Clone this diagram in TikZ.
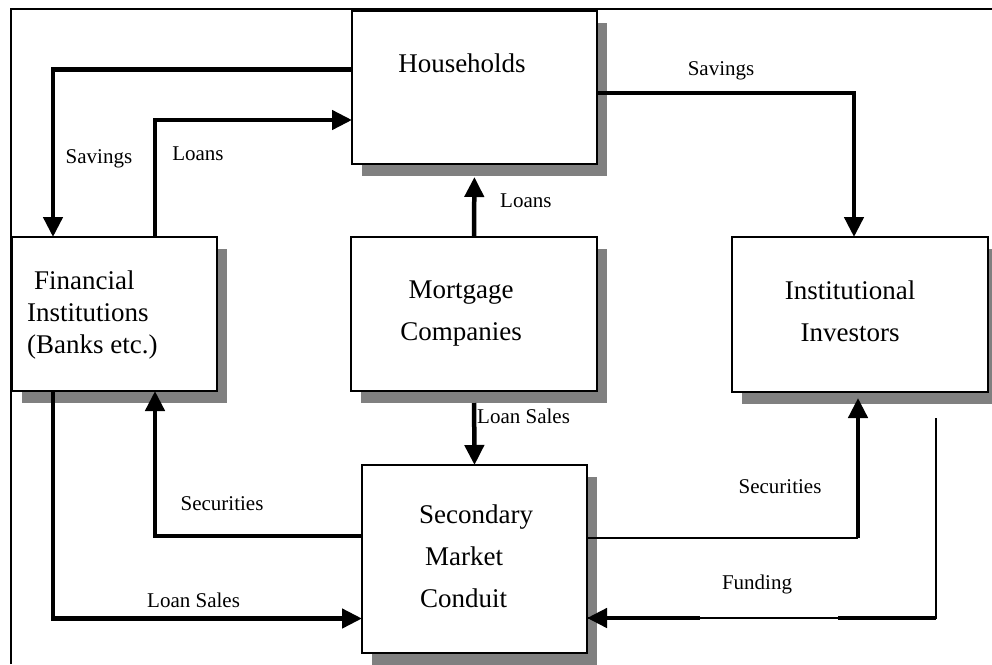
\documentclass[tikz,border=0pt]{standalone}
\usepackage{fontspec}
\setmainfont{Liberation Serif}
\usetikzlibrary{arrows.meta, shadows, calc}

\definecolor{shadowgray}{RGB}{128,128,128}

\tikzset{
  box/.style={draw, line width=1.5pt, fill=white, inner sep=0pt, outer sep=0pt,
    drop shadow={shadow xshift=10pt, shadow yshift=-12pt, fill=shadowgray, opacity=1}},
  boxtext/.style={inner sep=0pt, font=\fontsize{27}{42}\selectfont},
  flowlabel/.style={inner sep=0pt, font=\fontsize{21}{25}\selectfont},
  flowline/.style={line width=4.5pt},
  flow/.style={flowline, -{Triangle[length=20pt,width=19pt]}},
  thinline/.style={line width=2pt},
}

\begin{document}
\begin{tikzpicture}[x=1pt, y=-1pt]
  \useasboundingbox (0,0) rectangle (992,664);

  % frame
  \draw[line width=2pt] (11,664) -- (11,9) -- (992,9);

  % boxes
  \node[box, minimum width=245, minimum height=153] (hh)   at (474.5,87.5) {};
  \node[box, minimum width=205, minimum height=154] (fin)  at (114.5,314) {};
  \node[box, minimum width=246, minimum height=154] (mort) at (474,314) {};
  \node[box, minimum width=256, minimum height=155] (inv)  at (860,314.5) {};
  \node[box, minimum width=225, minimum height=188] (smc)  at (474.5,559) {};

  % box texts
  \node[boxtext, anchor=base] (hhtext) at (462,72) {Households};
  \node[boxtext, anchor=north west, align=left, font=\fontsize{27}{32}\selectfont]
    (fintext) at (27,271) {\hspace*{7pt}Financial\\Institutions\\(Banks etc.)};
  \node[boxtext, anchor=north, align=center] (morttext) at (461,281) {Mortgage\\Companies};
  \node[boxtext, anchor=north, align=center] (invtext) at (850,281) {Institutional\\Investors};
  \node[boxtext, anchor=north west, align=left]
    (smctext) at (419,504.5) {Secondary\\\hspace*{6pt}Market\\\hspace*{1pt}Conduit};

  % flows round the households
  \draw[flow] ([yshift=18pt]hh.west) -| ([xshift=-61.5pt]fin.north);
  \draw[flow] ([xshift=40.5pt]fin.north) |- ([yshift=-32.5pt]hh.west);
  \draw[flow, shorten >=13pt] (mort.north) -- (hh.south);
  \draw[flow] ([yshift=-5.5pt]hh.east) -| ([xshift=-6pt]inv.north);

  % flows round the conduit
  \draw[flow, shorten <=12pt] (mort.south) -- (smc.north);
  \draw[flow] ([yshift=23pt]smc.west) -| ([xshift=40.5pt]fin.south);
  \draw[flow] ([xshift=-61.5pt]fin.south) |- ([yshift=-59.5pt]smc.west);

  % securities to investors
  \path ([yshift=21pt]smc.east) coordinate (secbot)
        ([xshift=-2pt]inv.south) coordinate (sectop);
  \coordinate (seccorner) at (sectop |- secbot);
  \draw[thinline] (secbot) -- (seccorner);
  \draw[flow, shorten >=6pt] (seccorner) -- (sectop);

  % funding back to the conduit
  \coordinate (fundsrc) at (936,418);
  \path ([yshift=-59pt]smc.east) coordinate (fundend);
  \coordinate (fundcorner) at (fundsrc |- fundend);
  \draw[thinline] (fundsrc) -- (fundcorner) -- (fundend);
  \draw[flowline] (fundcorner) -- ++(-98,0);
  \draw[flow] ([xshift=113pt]fundend) -- (fundend);

  % flow labels
  \node[flowlabel, anchor=base] (savllab) at (99,163) {Savings};
  \node[flowlabel, anchor=base] (loanllab) at (198,160) {Loans};
  \node[flowlabel, anchor=base west] (loanclab) at (500,207) {Loans};
  \node[flowlabel, anchor=base] (savrlab) at (721,75) {Savings};
  \node[flowlabel, anchor=base west] (saleclab) at (477,423) {Loan\ Sales};
  \node[flowlabel, anchor=base] (secllab) at (222,510) {Securities};
  \node[flowlabel, anchor=base] (secrlab) at (780,493) {Securities};
  \node[flowlabel, anchor=base] (fundlab) at (757,589) {Funding};
  \node[flowlabel, anchor=base west] (salellab) at (147,607) {Loan Sales};
\end{tikzpicture}
\end{document}
